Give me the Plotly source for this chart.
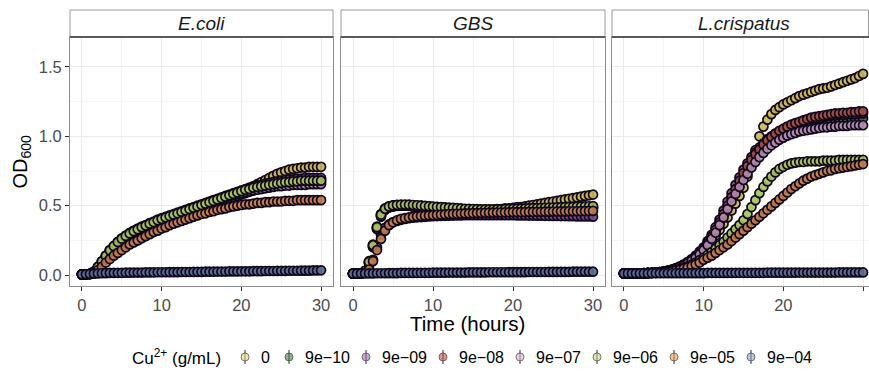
import plotly.graph_objects as go

# ---------------- data ----------------
times = [i * 0.5 for i in range(61)]  # hours, 0 .. 30
species = ["E.coli", "GBS", "L.crispatus"]
conc_labels = ["0", "9e\u221210", "9e\u221209", "9e\u221208", "9e\u221207", "9e\u221206", "9e\u221205", "9e\u221204"]

# E.coli
ecoli_0 = [0.005,0.005,0.008,0.02,0.045,0.08,0.115,0.15,0.18,0.205,
           0.23,0.25,0.27,0.285,0.30,0.31,0.325,0.335,0.35,0.36,
           0.37,0.38,0.39,0.40,0.41,0.42,0.43,0.44,0.45,0.46,
           0.47,0.48,0.49,0.50,0.51,0.52,0.535,0.55,0.565,0.58,
           0.595,0.61,0.625,0.64,0.655,0.67,0.685,0.70,0.715,0.73,
           0.74,0.75,0.76,0.765,0.77,0.775,0.775,0.78,0.78,0.78,0.78]
ecoli_9e10 = [0.005,0.005,0.008,0.02,0.05,0.085,0.12,0.155,0.185,0.21,
              0.235,0.255,0.275,0.29,0.305,0.32,0.33,0.345,0.355,0.37,
              0.38,0.39,0.40,0.41,0.42,0.43,0.44,0.45,0.46,0.47,
              0.48,0.49,0.50,0.51,0.52,0.53,0.54,0.55,0.56,0.57,
              0.58,0.59,0.60,0.61,0.62,0.63,0.64,0.645,0.65,0.655,
              0.66,0.665,0.67,0.675,0.68,0.68,0.685,0.685,0.69,0.69,0.69]
ecoli_9e09 = [0.005,0.005,0.008,0.025,0.06,0.10,0.14,0.18,0.21,0.24,
              0.265,0.285,0.305,0.32,0.335,0.35,0.36,0.375,0.385,0.40,
              0.41,0.42,0.43,0.44,0.45,0.46,0.47,0.48,0.49,0.50,
              0.51,0.52,0.53,0.54,0.55,0.56,0.57,0.58,0.59,0.60,
              0.61,0.62,0.63,0.64,0.645,0.65,0.66,0.665,0.67,0.675,
              0.68,0.685,0.69,0.69,0.695,0.695,0.70,0.70,0.70,0.70,0.70]
ecoli_9e08 = [0.005,0.005,0.008,0.022,0.055,0.095,0.135,0.175,0.205,0.235,
              0.26,0.28,0.30,0.315,0.33,0.345,0.355,0.37,0.38,0.395,
              0.405,0.415,0.425,0.435,0.445,0.455,0.465,0.475,0.485,0.495,
              0.505,0.515,0.525,0.535,0.545,0.555,0.565,0.575,0.585,0.595,
              0.60,0.61,0.62,0.625,0.63,0.635,0.64,0.645,0.65,0.655,
              0.66,0.66,0.665,0.665,0.67,0.67,0.67,0.67,0.67,0.67,0.67]
ecoli_9e07 = [0.005,0.005,0.008,0.02,0.05,0.09,0.13,0.17,0.20,0.23,
              0.255,0.275,0.295,0.31,0.325,0.34,0.35,0.365,0.375,0.39,
              0.40,0.41,0.42,0.43,0.44,0.45,0.46,0.47,0.48,0.49,
              0.50,0.51,0.52,0.53,0.54,0.55,0.56,0.57,0.575,0.585,
              0.59,0.60,0.605,0.61,0.615,0.62,0.625,0.63,0.635,0.64,
              0.64,0.645,0.645,0.65,0.65,0.65,0.65,0.655,0.655,0.655,0.655]
ecoli_9e06 = [0.005,0.005,0.008,0.024,0.058,0.098,0.138,0.178,0.208,0.238,
              0.262,0.282,0.30,0.316,0.33,0.345,0.357,0.37,0.382,0.395,
              0.405,0.415,0.425,0.435,0.445,0.455,0.465,0.475,0.485,0.495,
              0.505,0.515,0.525,0.535,0.545,0.555,0.565,0.575,0.585,0.595,
              0.605,0.615,0.62,0.63,0.635,0.64,0.645,0.65,0.655,0.66,
              0.665,0.67,0.67,0.675,0.675,0.68,0.68,0.68,0.68,0.68,0.68]
ecoli_9e05 = [0.005,0.005,0.008,0.015,0.035,0.06,0.09,0.115,0.14,0.16,
              0.18,0.20,0.22,0.235,0.25,0.265,0.28,0.295,0.31,0.32,
              0.335,0.345,0.36,0.37,0.38,0.39,0.40,0.41,0.42,0.43,
              0.44,0.445,0.455,0.46,0.47,0.475,0.48,0.49,0.495,0.50,
              0.505,0.51,0.51,0.515,0.52,0.52,0.525,0.525,0.53,0.53,
              0.53,0.535,0.535,0.535,0.54,0.54,0.54,0.54,0.54,0.54,0.54]
ecoli_9e04 = [0.005,0.006,0.008,0.01,0.012,0.013,0.014,0.015,0.015,0.016,
              0.016,0.017,0.017,0.018,0.018,0.018,0.019,0.019,0.019,0.02,
              0.02,0.02,0.021,0.021,0.021,0.022,0.022,0.022,0.023,0.023,
              0.023,0.024,0.024,0.024,0.025,0.025,0.025,0.026,0.026,0.026,
              0.027,0.027,0.027,0.028,0.028,0.028,0.029,0.029,0.029,0.03,
              0.03,0.03,0.031,0.031,0.031,0.032,0.032,0.032,0.033,0.033,0.034]

# GBS
gbs_0 = [0.01,0.01,0.012,0.03,0.10,0.22,0.35,0.44,0.48,0.495,
         0.50,0.505,0.505,0.505,0.505,0.50,0.50,0.50,0.495,0.495,
         0.49,0.49,0.485,0.485,0.48,0.48,0.475,0.475,0.47,0.47,
         0.47,0.47,0.47,0.47,0.47,0.47,0.475,0.475,0.48,0.48,
         0.485,0.49,0.49,0.495,0.50,0.505,0.51,0.515,0.52,0.525,
         0.53,0.535,0.54,0.545,0.55,0.555,0.56,0.565,0.57,0.575,0.58]
gbs_9e10 = [0.01,0.01,0.012,0.028,0.09,0.21,0.34,0.43,0.475,0.49,
            0.50,0.50,0.50,0.50,0.50,0.495,0.495,0.49,0.49,0.49,
            0.485,0.485,0.48,0.48,0.475,0.475,0.47,0.47,0.47,0.465,
            0.465,0.465,0.465,0.465,0.465,0.465,0.465,0.465,0.465,0.465,
            0.465,0.465,0.47,0.47,0.47,0.47,0.47,0.47,0.475,0.475,
            0.475,0.475,0.475,0.475,0.475,0.475,0.48,0.48,0.48,0.48,0.48]
gbs_9e09 = [0.01,0.01,0.011,0.018,0.05,0.11,0.20,0.29,0.34,0.365,
            0.38,0.39,0.398,0.404,0.41,0.413,0.416,0.418,0.42,0.422,
            0.424,0.425,0.426,0.427,0.428,0.429,0.43,0.43,0.431,0.431,
            0.432,0.432,0.432,0.432,0.432,0.432,0.432,0.432,0.431,0.431,
            0.431,0.43,0.43,0.43,0.429,0.429,0.428,0.428,0.427,0.427,
            0.426,0.426,0.425,0.425,0.424,0.424,0.423,0.423,0.422,0.422,0.421]
gbs_9e08 = [0.01,0.01,0.012,0.025,0.085,0.20,0.33,0.42,0.47,0.49,
            0.495,0.50,0.50,0.50,0.50,0.495,0.495,0.495,0.49,0.49,
            0.49,0.485,0.485,0.48,0.48,0.475,0.475,0.475,0.47,0.47,
            0.47,0.47,0.47,0.47,0.47,0.47,0.47,0.47,0.47,0.47,
            0.47,0.47,0.47,0.475,0.475,0.475,0.475,0.48,0.48,0.48,
            0.48,0.48,0.485,0.485,0.485,0.485,0.49,0.49,0.49,0.49,0.49]
gbs_9e07 = [0.01,0.01,0.012,0.026,0.088,0.205,0.335,0.425,0.47,0.488,
            0.495,0.498,0.50,0.50,0.498,0.495,0.493,0.49,0.49,0.488,
            0.485,0.483,0.48,0.478,0.475,0.473,0.47,0.47,0.468,0.466,
            0.465,0.464,0.463,0.462,0.462,0.462,0.462,0.462,0.463,0.464,
            0.465,0.466,0.467,0.468,0.469,0.47,0.471,0.472,0.473,0.474,
            0.475,0.476,0.477,0.478,0.479,0.48,0.481,0.482,0.483,0.484,0.485]
gbs_9e06 = [0.01,0.01,0.012,0.03,0.095,0.215,0.345,0.435,0.478,0.495,
            0.502,0.506,0.508,0.508,0.507,0.505,0.503,0.50,0.498,0.496,
            0.494,0.492,0.49,0.488,0.486,0.484,0.482,0.48,0.478,0.477,
            0.476,0.475,0.474,0.473,0.473,0.473,0.473,0.474,0.475,0.476,
            0.477,0.478,0.479,0.48,0.481,0.482,0.483,0.484,0.485,0.486,
            0.487,0.488,0.489,0.49,0.491,0.492,0.493,0.494,0.495,0.496,0.497]
gbs_9e05 = [0.01,0.01,0.011,0.016,0.04,0.10,0.18,0.26,0.32,0.36,
            0.38,0.395,0.405,0.41,0.415,0.42,0.423,0.426,0.428,0.43,
            0.432,0.434,0.436,0.438,0.44,0.441,0.442,0.443,0.444,0.445,
            0.446,0.447,0.448,0.449,0.45,0.45,0.451,0.451,0.452,0.452,
            0.453,0.453,0.454,0.454,0.455,0.455,0.456,0.456,0.457,0.457,
            0.458,0.458,0.459,0.459,0.46,0.46,0.46,0.461,0.461,0.462,0.462]
gbs_9e04 = [0.01,0.01,0.011,0.011,0.012,0.012,0.013,0.013,0.013,0.014,
            0.014,0.014,0.015,0.015,0.015,0.015,0.016,0.016,0.016,0.016,
            0.017,0.017,0.017,0.017,0.018,0.018,0.018,0.018,0.018,0.019,
            0.019,0.019,0.019,0.019,0.02,0.02,0.02,0.02,0.02,0.021,
            0.021,0.021,0.021,0.021,0.022,0.022,0.022,0.022,0.022,0.023,
            0.023,0.023,0.023,0.023,0.023,0.024,0.024,0.024,0.024,0.024,0.024]

# L.crispatus
lcr_0 = [0.012,0.012,0.012,0.012,0.013,0.013,0.014,0.015,0.017,0.019,
         0.022,0.027,0.035,0.045,0.055,0.07,0.085,0.10,0.12,0.145,
         0.175,0.21,0.245,0.285,0.325,0.37,0.415,0.465,0.515,0.57,
         0.63,0.71,0.80,0.90,1.00,1.07,1.12,1.16,1.19,1.21,
         1.23,1.245,1.26,1.275,1.29,1.30,1.31,1.32,1.33,1.34,
         1.345,1.35,1.36,1.37,1.38,1.39,1.40,1.41,1.42,1.435,1.45]
lcr_9e10 = [0.012,0.012,0.012,0.013,0.013,0.014,0.015,0.016,0.018,0.021,
            0.025,0.03,0.037,0.046,0.057,0.07,0.086,0.105,0.127,0.155,
            0.185,0.225,0.27,0.32,0.375,0.435,0.495,0.555,0.61,0.665,
            0.715,0.765,0.81,0.85,0.885,0.915,0.945,0.97,0.99,1.01,
            1.025,1.04,1.05,1.06,1.07,1.08,1.09,1.095,1.10,1.105,
            1.11,1.115,1.115,1.12,1.12,1.125,1.125,1.13,1.13,1.13,1.13]
lcr_9e09 = [0.012,0.012,0.012,0.013,0.013,0.014,0.015,0.017,0.019,0.022,
            0.026,0.032,0.04,0.05,0.062,0.077,0.095,0.115,0.14,0.17,
            0.20,0.245,0.29,0.345,0.40,0.465,0.53,0.59,0.65,0.705,
            0.76,0.805,0.85,0.885,0.92,0.95,0.98,1.00,1.02,1.035,
            1.05,1.065,1.08,1.09,1.10,1.11,1.12,1.125,1.13,1.135,
            1.14,1.145,1.15,1.15,1.155,1.155,1.16,1.16,1.16,1.165,1.165]
lcr_9e08 = [0.012,0.012,0.012,0.013,0.013,0.014,0.015,0.017,0.019,0.022,
            0.026,0.031,0.038,0.047,0.058,0.072,0.089,0.108,0.13,0.16,
            0.19,0.23,0.275,0.325,0.38,0.44,0.50,0.56,0.62,0.68,
            0.735,0.785,0.83,0.87,0.905,0.94,0.97,0.995,1.02,1.04,
            1.055,1.07,1.085,1.095,1.105,1.115,1.125,1.135,1.14,1.145,
            1.15,1.155,1.16,1.165,1.165,1.17,1.17,1.175,1.175,1.18,1.18]
lcr_9e07 = [0.012,0.012,0.012,0.013,0.013,0.014,0.015,0.016,0.018,0.021,
            0.025,0.03,0.036,0.045,0.055,0.068,0.084,0.102,0.123,0.15,
            0.18,0.215,0.26,0.305,0.36,0.415,0.475,0.53,0.585,0.635,
            0.685,0.73,0.775,0.815,0.85,0.88,0.91,0.935,0.955,0.975,
            0.99,1.005,1.015,1.025,1.035,1.04,1.045,1.05,1.055,1.06,
            1.065,1.065,1.07,1.07,1.075,1.075,1.075,1.08,1.08,1.08,1.08]
lcr_9e06 = [0.012,0.012,0.012,0.012,0.013,0.013,0.014,0.015,0.016,0.018,
            0.02,0.024,0.029,0.035,0.043,0.052,0.063,0.075,0.09,0.107,
            0.125,0.145,0.165,0.19,0.215,0.24,0.27,0.30,0.33,0.36,
            0.395,0.44,0.49,0.54,0.59,0.635,0.675,0.71,0.74,0.765,
            0.78,0.795,0.805,0.81,0.815,0.815,0.82,0.82,0.82,0.82,
            0.825,0.825,0.825,0.825,0.83,0.83,0.83,0.83,0.83,0.83,0.83]
lcr_9e05 = [0.012,0.012,0.012,0.012,0.013,0.013,0.014,0.015,0.016,0.018,
            0.02,0.023,0.027,0.032,0.038,0.046,0.055,0.065,0.077,0.09,
            0.11,0.125,0.14,0.16,0.18,0.20,0.22,0.245,0.27,0.295,
            0.32,0.345,0.37,0.395,0.42,0.445,0.47,0.495,0.52,0.545,
            0.57,0.595,0.62,0.64,0.66,0.68,0.695,0.71,0.72,0.73,
            0.74,0.75,0.755,0.765,0.77,0.775,0.78,0.785,0.79,0.795,0.80]
lcr_9e04 = [0.012,0.012,0.012,0.012,0.012,0.012,0.012,0.013,0.013,0.013,
            0.013,0.013,0.013,0.013,0.014,0.014,0.014,0.014,0.014,0.014,
            0.014,0.015,0.015,0.015,0.015,0.015,0.015,0.015,0.016,0.016,
            0.016,0.016,0.016,0.016,0.016,0.016,0.017,0.017,0.017,0.017,
            0.017,0.017,0.017,0.017,0.018,0.018,0.018,0.018,0.018,0.018,
            0.018,0.018,0.018,0.018,0.019,0.019,0.019,0.019,0.019,0.019,0.019]

panel_series = [
    [ecoli_0, ecoli_9e10, ecoli_9e09, ecoli_9e08, ecoli_9e07, ecoli_9e06, ecoli_9e05, ecoli_9e04],
    [gbs_0, gbs_9e10, gbs_9e09, gbs_9e08, gbs_9e07, gbs_9e06, gbs_9e05, gbs_9e04],
    [lcr_0, lcr_9e10, lcr_9e09, lcr_9e08, lcr_9e07, lcr_9e06, lcr_9e05, lcr_9e04],
]

# ---------------- style ----------------
# key colours (as in legend, light) and the darker tone the dots take in the panels
base_rgb = [(228, 213, 110), (65, 132, 60), (165, 107, 190), (203, 78, 60),
            (223, 177, 217), (190, 217, 123), (235, 157, 87), (137, 163, 203)]
dot_rgb = [(200, 182, 84), (58, 104, 58), (120, 70, 140), (165, 78, 66),
           (180, 140, 175), (165, 195, 90), (195, 125, 75), (88, 110, 150)]
ALPHA = 0.6

W, H = 869, 373
FONT = "Liberation Sans, Arial, sans-serif"


def fx(px):
    return px / W


def fy(py):
    return 1 - py / H


x_dom_px = [(70, 333), (341, 605), (612, 869)]
y_dom = [fy(286), fy(37)]
x_ranges = [[-1.5, 31.5], [-1.5, 31.5], [-1.5, 30.75]]
y_range = [-0.079, 1.716]

fig = go.Figure()

for p in range(3):
    ax = "" if p == 0 else str(p + 1)
    for c in range(8):
        r, g, b = dot_rgb[c]
        fig.add_trace(go.Scatter(
            x=times, y=panel_series[p][c], mode="markers",
            xaxis="x" + ax, yaxis="y" + ax, showlegend=False,
            name=conc_labels[c],
            marker=dict(size=9, color=f"rgba({r},{g},{b},0.9)",
                        line=dict(color="rgba(16,6,26,1)", width=1.7)),
        ))

layout = dict(
    width=W, height=H, margin=dict(l=0, r=0, t=0, b=0),
    paper_bgcolor="white", plot_bgcolor="white",
    font=dict(family=FONT, color="#000"),
    shapes=[], annotations=[],
)

for p in range(3):
    ax = "" if p == 0 else str(p + 1)
    x0, x1 = x_dom_px[p]
    layout["xaxis" + ax] = dict(
        domain=[fx(x0), fx(x1)], range=x_ranges[p], anchor="y" + ax,
        tick0=0, dtick=10, ticks="outside", ticklen=4, tickcolor="#333",
        tickfont=dict(size=16.5, color="#4d4d4d", family=FONT),
        showline=True, mirror=True, linecolor="#8c8c8c", linewidth=1,
        showgrid=True, gridcolor="#ebebeb", gridwidth=1, zeroline=False,
        minor=dict(dtick=5, tick0=0, showgrid=True, gridcolor="#f2f2f2", gridwidth=0.8, ticks=""),
    )
    layout["yaxis" + ax] = dict(
        domain=y_dom, range=y_range, anchor="x" + ax,
        tick0=0, dtick=0.5, tickformat=".1f",
        ticks="outside" if p == 0 else "", ticklen=4, tickcolor="#333",
        showticklabels=(p == 0),
        tickfont=dict(size=16.5, color="#4d4d4d", family=FONT),
        showline=True, mirror=True, linecolor="#8c8c8c", linewidth=1,
        showgrid=True, gridcolor="#ebebeb", gridwidth=1, zeroline=False,
        minor=dict(dtick=0.25, tick0=0, showgrid=True, gridcolor="#f2f2f2", gridwidth=0.8, ticks=""),
    )
    # strip
    right = min(x1, W - 0.5)
    layout["shapes"].append(dict(type="rect", xref="paper", yref="paper",
                                 x0=fx(x0), x1=fx(right), y0=fy(37), y1=fy(10),
                                 fillcolor="white", line=dict(color="#9a9a9a", width=1), layer="above"))
    layout["shapes"].append(dict(type="line", xref="paper", yref="paper",
                                 x0=fx(x0), x1=fx(x1), y0=fy(37), y1=fy(37),
                                 line=dict(color="#333333", width=1.6), layer="above"))
    layout["annotations"].append(dict(text=f"<i>{species[p]}</i>", xref="paper", yref="paper",
                                      x=fx((x0 + (x0 + 263)) / 2), y=fy(23.5), showarrow=False,
                                      xanchor="center", yanchor="middle",
                                      font=dict(size=19, color="#1a1a1a", family=FONT)))

# axis titles
layout["annotations"].append(dict(text="Time (hours)", xref="paper", yref="paper",
                                  x=fx(467), y=fy(323), showarrow=False, xanchor="center", yanchor="middle",
                                  font=dict(size=20.5, color="#000", family=FONT)))
layout["annotations"].append(dict(text="OD<sub>600</sub>", xref="paper", yref="paper",
                                  x=fx(21), y=fy(161.5), showarrow=False, xanchor="center", yanchor="middle",
                                  textangle=-90, font=dict(size=20, color="#000", family=FONT)))

# custom legend
leg_y = 357
layout["annotations"].append(dict(text="Cu<sup>2+</sup> (g/mL)", xref="paper", yref="paper",
                                  x=fx(130), y=fy(leg_y), showarrow=False, xanchor="left", yanchor="middle",
                                  font=dict(size=17, color="#000", family=FONT)))
key_x = [245, 289, 366, 443, 520, 597, 674, 751]
for c in range(8):
    r, g, b = base_rgb[c]
    kx = fx(key_x[c])
    layout["shapes"].append(dict(type="line", xref="paper", yref="paper",
                                 xsizemode="pixel", xanchor=kx, x0=0, x1=0,
                                 ysizemode="pixel", yanchor=fy(leg_y), y0=-7, y1=7,
                                 line=dict(color="rgba(60,40,80,0.85)", width=1.2)))
    layout["shapes"].append(dict(type="circle", xref="paper", yref="paper",
                                 xsizemode="pixel", xanchor=kx, x0=-4, x1=4,
                                 ysizemode="pixel", yanchor=fy(leg_y), y0=-4, y1=4,
                                 fillcolor=f"rgba({r},{g},{b},{ALPHA})",
                                 line=dict(color="rgba(60,60,60,0.8)", width=0.8)))
    layout["annotations"].append(dict(text=conc_labels[c], xref="paper", yref="paper",
                                      x=fx(key_x[c] + 14), y=fy(leg_y), showarrow=False,
                                      xanchor="left", yanchor="middle",
                                      font=dict(size=16, color="#000", family=FONT)))

fig.update_layout(**layout)
fig.write_html(
    "out.html",
    config={"displayModeBar": False, "staticPlot": True},
    post_script="document.body.style.margin='0';document.body.style.padding='0';"
                "document.body.style.overflow='hidden';",
)
